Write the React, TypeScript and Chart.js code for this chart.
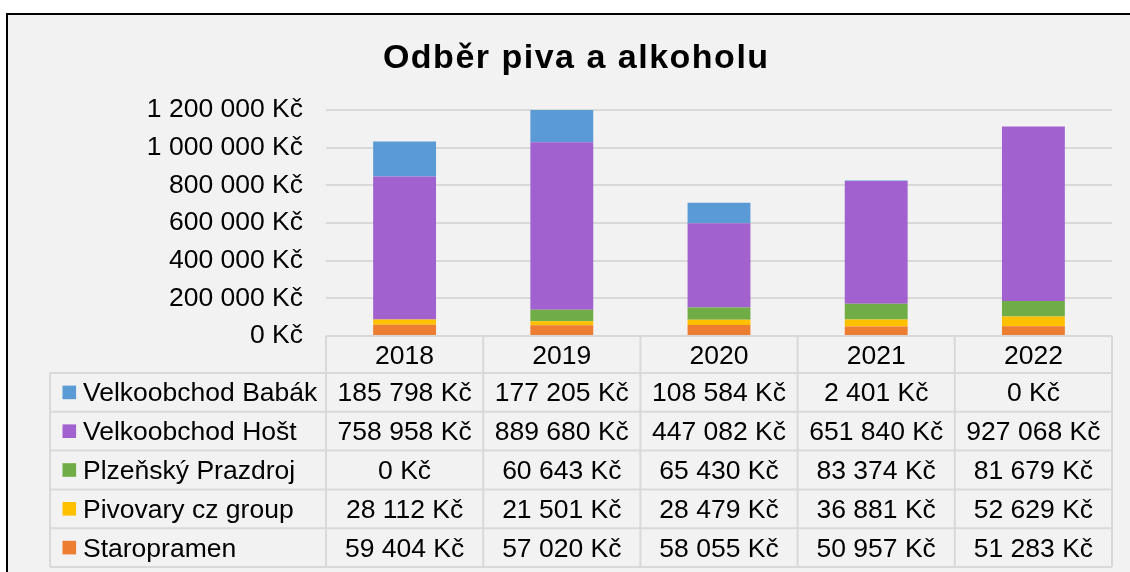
import React, { useEffect, useRef } from "react";
import { Chart, registerables } from "chart.js";

Chart.register(...registerables);

const title = "Odběr piva a alkoholu";
const years = ["2018", "2019", "2020", "2021", "2022"];
const seriesNames = [
  "Velkoobchod Babák",
  "Velkoobchod Hošt",
  "Plzeňský Prazdroj",
  "Pivovary cz group",
  "Staropramen",
];
const babak = [185798, 177205, 108584, 2401, 0];
const host = [758958, 889680, 447082, 651840, 927068];
const plzen = [0, 60643, 65430, 83374, 81679];
const pivovary = [28112, 21501, 28479, 36881, 52629];
const staropramen = [59404, 57020, 58055, 50957, 51283];
const seriesColors = ["#5B9BD5", "#A161CE", "#70AD47", "#FFC000", "#ED7D31"];
const yMax = 1200000;
const yStep = 200000;

const tableRows = [babak, host, plzen, pivovary, staropramen];

const FONT = "'Liberation Sans', Arial, sans-serif";

function fmt(v: number): string {
  return String(Math.round(v)).replace(/\B(?=(\d{3})+(?!\d))/g, " ") + " Kč";
}

const tablePlugin = {
  id: "dataTable",
  afterDraw(chart: any) {
    const { ctx, chartArea } = chart;
    const x = chart.scales.x;
    const left = chartArea.left;
    const right = chartArea.right;
    const colW = (right - left) / years.length;
    const top = chartArea.bottom;
    const headerH = 37;
    const rowH = 38.8;
    const legendLeft = 50;
    const bottom = top + headerH + rowH * tableRows.length;

    ctx.save();
    // Title
    ctx.font = `bold 34px ${FONT}`;
    (ctx as any).letterSpacing = "1.5px";
    ctx.fillStyle = "#000";
    ctx.textBaseline = "alphabetic";
    ctx.textAlign = "left";
    const tw = ctx.measureText(title).width - 1.5;
    ctx.fillText(title, 575.5 - tw / 2, 68);
    (ctx as any).letterSpacing = "0px";

    // Table borders
    ctx.strokeStyle = "#d9d9d9";
    ctx.lineWidth = 2;
    ctx.beginPath();
    ctx.moveTo(left, top);
    ctx.lineTo(right, top);
    for (let k = 0; k <= tableRows.length; k++) {
      const yy = top + headerH + k * rowH;
      ctx.moveTo(legendLeft, yy);
      ctx.lineTo(right, yy);
    }
    for (let j = 0; j <= years.length; j++) {
      const xx = left + j * colW;
      ctx.moveTo(xx, top);
      ctx.lineTo(xx, bottom);
    }
    ctx.moveTo(legendLeft, top + headerH);
    ctx.lineTo(legendLeft, bottom);
    ctx.stroke();

    // Header
    ctx.font = `26.5px ${FONT}`;
    ctx.fillStyle = "#000";
    ctx.textAlign = "center";
    ctx.textBaseline = "alphabetic";
    years.forEach((yr, i) => {
      ctx.fillText(yr, x.getPixelForValue(i), top + headerH / 2 + 9);
    });

    // Rows
    tableRows.forEach((row, r) => {
      const cy = top + headerH + r * rowH + rowH / 2;
      ctx.fillStyle = seriesColors[r];
      ctx.fillRect(legendLeft + 12.5, cy - 6.8, 13.6, 13.6);
      ctx.fillStyle = "#000";
      ctx.textAlign = "left";
      ctx.fillText(seriesNames[r], legendLeft + 33, cy + 9);
      ctx.textAlign = "center";
      row.forEach((v, i) => {
        ctx.fillText(fmt(v), x.getPixelForValue(i), cy + 9);
      });
    });
    ctx.restore();
  },
};

export default function App() {
  const ref = useRef<HTMLCanvasElement | null>(null);

  useEffect(() => {
    document.body.style.margin = "0";
    if (!ref.current) return;
    Chart.defaults.font.family = FONT;
    const stackOrder = [4, 3, 2, 1, 0];
    const chart = new Chart(ref.current, {
      type: "bar",
      data: {
        labels: years,
        datasets: stackOrder.map((idx) => ({
          label: seriesNames[idx],
          data: tableRows[idx],
          backgroundColor: seriesColors[idx],
          borderWidth: 0,
          clip: 0,
          barPercentage: 0.4,
          categoryPercentage: 1,
        })),
      },
      options: {
        animation: false,
        responsive: false,
        maintainAspectRatio: false,
        layout: { padding: { top: 110, bottom: 572 - 336, left: 0, right: 1130 - 1112 } },
        plugins: {
          legend: { display: false },
          title: { display: false },
          tooltip: { enabled: false },
        },
        scales: {
          x: {
            stacked: true,
            display: false,
          },
          y: {
            stacked: true,
            min: 0,
            max: yMax,
            afterFit: (scale: any) => {
              scale.width = 326;
            },
            ticks: {
              stepSize: yStep,
              callback: (v: any) => fmt(Number(v)),
              color: "#000",
              font: { size: 26.5, family: FONT },
              padding: 23,
            },
            grid: { color: "#d9d9d9", lineWidth: 2, drawTicks: false },
            border: { display: false },
          },
        },
      },
      plugins: [tablePlugin],
    } as any);
    return () => chart.destroy();
  }, []);

  return (
    <div style={{ position: "relative", width: 1130, height: 572, overflow: "hidden", background: "#fff" }}>
      <div
        style={{
          position: "absolute",
          left: 6,
          top: 13,
          width: 1300,
          height: 800,
          border: "2px solid #000",
          background: "#f2f2f2",
        }}
      />
      <canvas ref={ref} width={1130} height={572} style={{ position: "absolute", left: 0, top: 0, width: 1130, height: 572 }} />
    </div>
  );
}
